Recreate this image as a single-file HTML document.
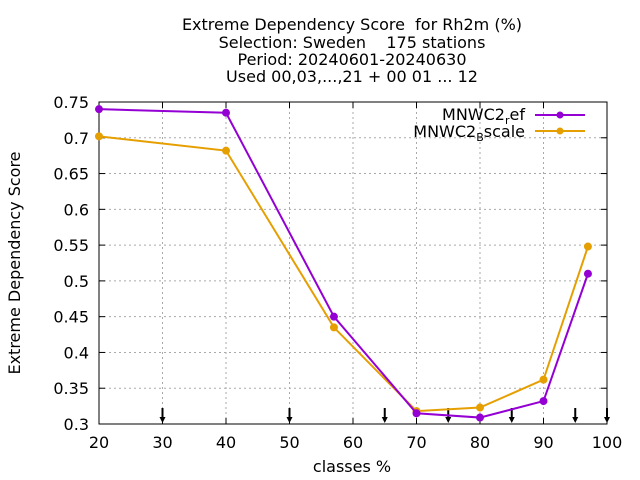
<!DOCTYPE html>
<html><head><meta charset="utf-8"><style>
body{margin:0;background:#fff;}
svg{display:block;font-family:"DejaVu Sans","Liberation Sans",sans-serif;}
text{white-space:pre;}
</style></head><body>
<svg id="chart" width="640" height="480">
<g font-size="16" text-anchor="middle" fill="#000">
<text x="352" y="30" xml:space="preserve">Extreme Dependency Score  for Rh2m (%)</text>
<text x="352" y="48" xml:space="preserve">Selection: Sweden    175 stations</text>
<text x="352" y="65">Period: 20240601-20240630</text>
<text x="352" y="82">Used 00,03,...,21 + 00 01 ... 12</text>
</g>
<g id="grid"></g>
<g id="axes"></g>
<g id="series"></g>
<text x="352" y="472" font-size="16" text-anchor="middle">classes %</text>
<text transform="translate(20,263) rotate(-90)" font-size="16" text-anchor="middle">Extreme Dependency Score</text>
<g font-size="16">
<g>
<text x="525" y="120" text-anchor="end">MNWC2<tspan font-size="11" dy="4">r</tspan><tspan dy="-4">ef</tspan></text>
<line x1="535" y1="115" x2="585" y2="115" stroke="#9400d3" stroke-width="2"/>
<circle cx="560" cy="115" r="3.5" fill="#9400d3"/>
</g>
<g>
<text x="525" y="137" text-anchor="end">MNWC2<tspan font-size="11" dy="4">B</tspan><tspan dy="-4">scale</tspan></text>
<line x1="535" y1="131" x2="585" y2="131" stroke="#e69f00" stroke-width="2"/>
<circle cx="560" cy="131" r="3.5" fill="#e69f00"/>
</g>
</g>
</svg>
<script>
const categories=[20,40,57,70,80,90,97];
const refValues=[0.740,0.735,0.450,0.315,0.309,0.332,0.510];
const bscaleValues=[0.702,0.682,0.435,0.318,0.323,0.362,0.548];
const xTicks=[20,30,40,50,60,70,80,90,100];
const yTicks=[0.3,0.35,0.4,0.45,0.5,0.55,0.6,0.65,0.7,0.75];
const arrowXs=[30,50,65,75,85,95,100];
const L=99,R=607,T=102,B=424;
const x=v=>L+(v-20)/80*(R-L);
const y=v=>B-(v-0.3)/0.45*(B-T);
const NS="http://www.w3.org/2000/svg";
function mk(tag,attrs,parent){const e=document.createElementNS(NS,tag);for(const k in attrs)e.setAttribute(k,attrs[k]);parent.appendChild(e);return e;}
const grid=document.getElementById('grid'),axes=document.getElementById('axes'),series=document.getElementById('series');
xTicks.forEach(t=>{
 if(t>20&&t<100){const g=mk('line',{x1:x(t),x2:x(t),y1:T,y2:B,stroke:'#aaa','stroke-dasharray':'2,3'},grid);
 
 }
 mk('line',{x1:x(t),x2:x(t),y1:B,y2:B-6,stroke:'#000'},axes);
 mk('line',{x1:x(t),x2:x(t),y1:T,y2:T+6,stroke:'#000'},axes);
 const tx=mk('text',{x:x(t),y:B+24,'font-size':16,'text-anchor':'middle'},axes);tx.textContent=t;
 
 
});
yTicks.forEach(t=>{
 if(t>0.3&&t<0.75){const g=mk('line',{x1:L,x2:R,y1:y(t),y2:y(t),stroke:'#aaa','stroke-dasharray':'2,3'},grid);
 
 }
 mk('line',{x1:L,x2:L+6,y1:y(t),y2:y(t),stroke:'#000'},axes);
 mk('line',{x1:R,x2:R-6,y1:y(t),y2:y(t),stroke:'#000'},axes);
 const tx=mk('text',{x:L-10,y:y(t)+6,'font-size':16,'text-anchor':'end'},axes);tx.textContent=String(t);
 
 
});
mk('rect',{x:L,y:T,width:R-L,height:B-T,fill:'none',stroke:'#000'},axes);
arrowXs.forEach(a=>{
 const g=mk('g',{},axes);
 
 
 mk('line',{x1:x(a),x2:x(a),y1:408,y2:421,stroke:'#000','stroke-width':2},g);
 mk('path',{d:`M${x(a)-3},417 L${x(a)+3},417 L${x(a)},423 Z`,fill:'#000'},g);
});
function draw(vals,color,name){
 const g=mk('g',{},series);
 
 
 mk('polyline',{points:vals.map((v,i)=>x(categories[i])+','+y(v)).join(' '),fill:'none',stroke:color,'stroke-width':2},g);
 vals.forEach((v,i)=>{const c=mk('circle',{cx:x(categories[i]),cy:y(v),r:4,fill:color},g);
 
 });
}
draw(bscaleValues,'#e69f00','series-bscale');
draw(refValues,'#9400d3','series-ref');
</script>
</body></html>
